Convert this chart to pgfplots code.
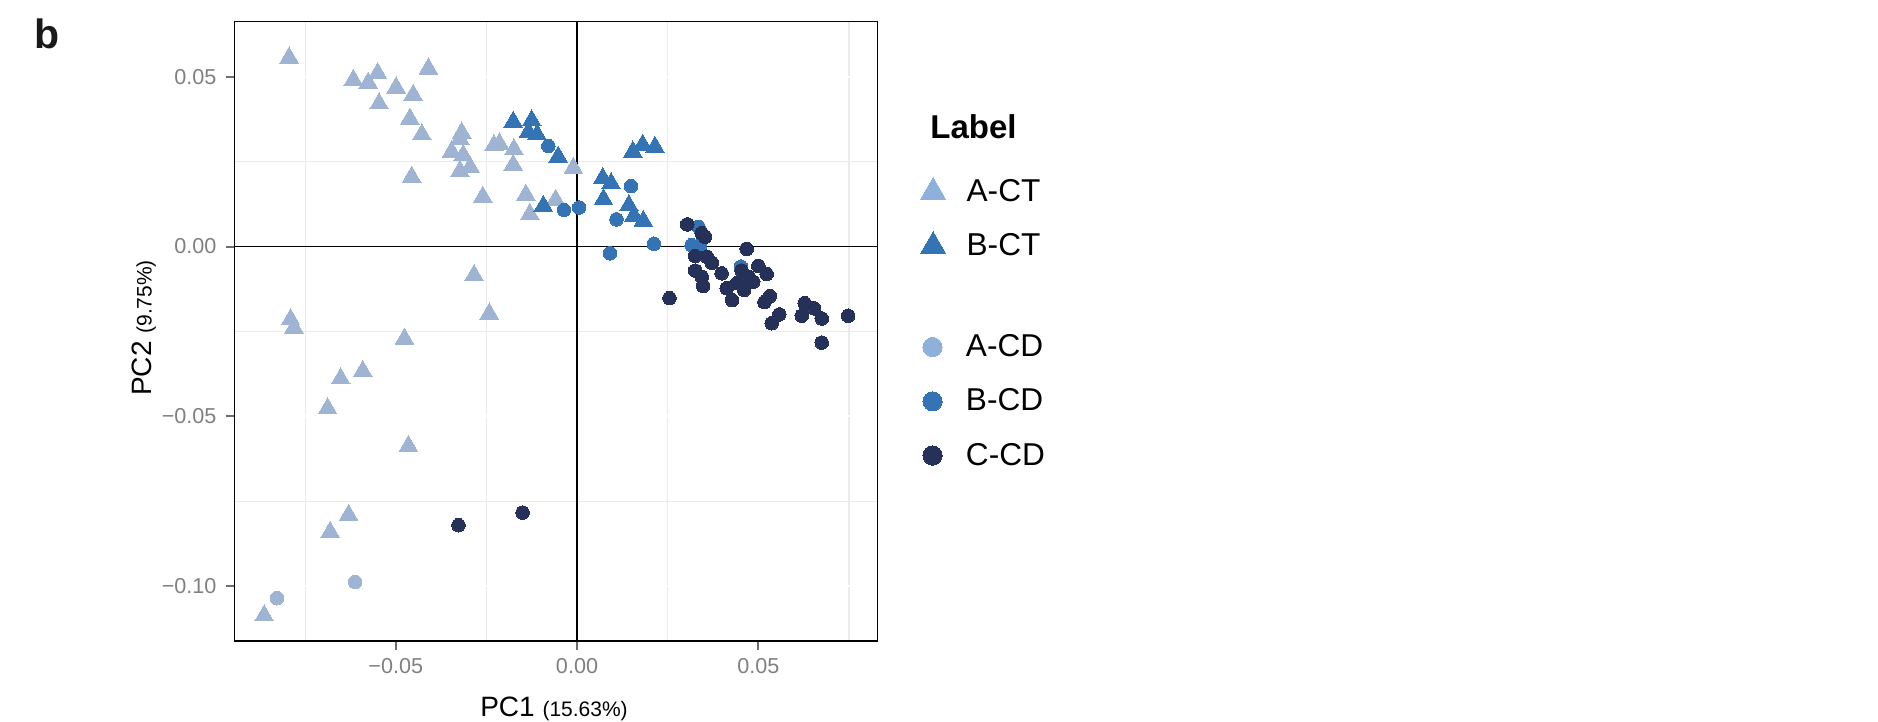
\documentclass[border=0pt]{standalone}
\usepackage{fontspec}
\setmainfont{Liberation Sans}
\usepackage{pgfplots}
\pgfplotsset{compat=1.18}
\definecolor{acol}{HTML}{9FB4D3}
\definecolor{aleg}{HTML}{8DB1DB}
\definecolor{bcol}{HTML}{3474B4}
\definecolor{ccol}{HTML}{253159}
\definecolor{gridc}{HTML}{EBEBEB}
\definecolor{tickc}{HTML}{6E6E6E}
\definecolor{labc}{HTML}{808080}
\begin{document}
\begin{tikzpicture}
\useasboundingbox (0pt,0pt) rectangle (939pt,361pt);
\clip (0pt,0pt) rectangle (939pt,361pt);
\begin{axis}[
  at={(117.25pt,40.5pt)}, anchor=south west,
  width=321.6pt, height=309.65pt, scale only axis,
  xmin=-0.09448, xmax=0.08295, ymin=-0.1162, ymax=0.06622,
  scaled ticks=false,
  axis line style={black, line width=0.7pt},
  xtick={-0.05,0,0.05}, xticklabels={−0.05,0.00,0.05},
  ytick={-0.1,-0.05,0,0.05}, yticklabels={−0.10,−0.05,0.00,0.05},
  minor xtick={-0.075,-0.025,0.025,0.075},
  minor ytick={-0.075,-0.025,0.025},
  grid=both,
  minor grid style={color=gridc, line width=0.6pt},
  major grid style={color=white, line width=0.9pt},
  tick align=outside, tick pos=left,
  major tick length=4.5pt, minor tick length=0pt,
  every tick/.style={color=tickc, line width=1pt},
  tick label style={font=\fontsize{10.8}{12}\selectfont, color=labc, inner sep=0pt},
  xticklabel style={yshift=-4pt},
  yticklabel style={xshift=-4.3pt},
  legend style={at={(1.0656,0.7491)}, anchor=north west, draw=none, fill=none,
    inner sep=0pt, row sep=13.4pt, column sep=10.35pt,
    font=\fontsize{15.8}{18}\selectfont, nodes={inner sep=0pt}},
  legend cell align=left,
]
\addplot[forget plot, black, line width=0.6pt] coordinates {(0,-0.1162) (0,0.06622)};
\addplot[forget plot, black, line width=0.6pt] coordinates {(-0.09448,0) (0.08295,0)};
% A-CT
\addplot[forget plot, only marks, mark=triangle*, mark size=5.4pt, mark options={fill=acol, draw=acol, line width=0pt}] coordinates {
(-0.0794,0.0556) (-0.0617,0.0490) (-0.0576,0.0482) (-0.0550,0.0510) (-0.0410,0.0524)
(-0.0499,0.0468) (-0.0452,0.0446) (-0.0546,0.0421) (-0.0461,0.0376) (-0.0428,0.0330)
(-0.0318,0.0335) (-0.0323,0.0317) (-0.0346,0.0279) (-0.0314,0.0269) (-0.0295,0.0234)
(-0.0323,0.0222) (-0.0456,0.0205) (-0.0229,0.0298) (-0.0214,0.0303) (-0.0174,0.0286)
(-0.0176,0.0240) (-0.0260,0.0146) (-0.0141,0.0152) (-0.0130,0.0095) (-0.0059,0.0137)
(-0.0010,0.0231) (-0.0284,-0.0085) (-0.0242,-0.0198) (-0.0790,-0.0215) (-0.0781,-0.0239)
(-0.0476,-0.0272) (-0.0591,-0.0367) (-0.0652,-0.0389) (-0.0688,-0.0477) (-0.0465,-0.0588)
(-0.0863,-0.1087) (-0.0681,-0.0841) (-0.0630,-0.0791)
};
% B-CT
\addplot[forget plot, only marks, mark=triangle*, mark size=5.4pt, mark options={fill=bcol, draw=bcol, line width=0pt}] coordinates {
(-0.0176,0.0367) (-0.0125,0.0371) (-0.0134,0.0337) (-0.0110,0.0330) (-0.0052,0.0264)
(-0.0093,0.0119) (0.0154,0.0279) (0.0181,0.0299) (0.0215,0.0293) (0.0071,0.0201)
(0.0094,0.0186) (0.0073,0.0139) (0.0143,0.0121) (0.0157,0.0090) (0.0183,0.0075)
};
% A-CD
\addplot[forget plot, only marks, mark=*, mark size=3.4pt, mark options={fill=acol, draw=acol, line width=0pt}] coordinates {
(-0.0828,-0.1036) (-0.0612,-0.0988)
};
% B-CD
\addplot[forget plot, only marks, mark=*, mark size=3.4pt, mark options={fill=bcol, draw=bcol, line width=0pt}] coordinates {
(-0.0079,0.0296) (-0.0036,0.0108) (0.0006,0.0115) (0.0149,0.0178) (0.0109,0.0080)
(0.0091,-0.0020) (0.0212,0.0008) (0.0335,0.0058) (0.0316,0.0004) (0.0339,0.0004)
(0.0452,-0.0059)
};
% C-CD
\addplot[forget plot, only marks, mark=*, mark size=3.4pt, mark options={fill=ccol, draw=ccol, line width=0pt}] coordinates {
(0.0304,0.0065) (0.0344,0.0039) (0.0353,0.0029) (0.0468,-0.0007) (0.0326,-0.0028)
(0.0358,-0.0030) (0.0372,-0.0048) (0.0326,-0.0071) (0.0344,-0.0089) (0.0348,-0.0116)
(0.0399,-0.0079) (0.0255,-0.0152) (0.0413,-0.0123) (0.0428,-0.0158) (0.0441,-0.0108)
(0.0454,-0.0071) (0.0461,-0.0128) (0.0473,-0.0089) (0.0486,-0.0104) (0.0500,-0.0057)
(0.0523,-0.0081) (0.0532,-0.0146) (0.0517,-0.0164) (0.0558,-0.0200) (0.0537,-0.0226)
(0.0628,-0.0167) (0.0654,-0.0182) (0.0620,-0.0204) (0.0675,-0.0212) (0.0748,-0.0204)
(0.0675,-0.0283) (-0.0327,-0.0821) (-0.0150,-0.0784)
};
\addlegendimage{only marks, mark=triangle*, mark size=7.4pt, mark options={fill=aleg, draw=aleg, line width=0pt}}
\addlegendentry{A-CT}
\addlegendimage{only marks, mark=triangle*, mark size=7.4pt, mark options={fill=bcol, draw=bcol, line width=0pt}}
\addlegendentry{B-CT}
\end{axis}
\begin{axis}[
  at={(117.25pt,40.5pt)}, anchor=south west,
  width=321.6pt, height=309.65pt, scale only axis, hide axis,
  xmin=-0.09448, xmax=0.08295, ymin=-0.1162, ymax=0.06622,
  legend style={at={(1.0697,0.4955)}, anchor=north west, draw=none, fill=none,
    inner sep=0pt, row sep=14.6pt, column sep=11.9pt,
    font=\fontsize{15.8}{18}\selectfont, nodes={inner sep=0pt}},
  legend cell align=left,
]
\addlegendimage{only marks, mark=*, mark size=4.8pt, mark options={fill=aleg, draw=aleg, line width=0pt}}
\addlegendentry{A-CD}
\addlegendimage{only marks, mark=*, mark size=4.8pt, mark options={fill=bcol, draw=bcol, line width=0pt}}
\addlegendentry{B-CD}
\addlegendimage{only marks, mark=*, mark size=4.8pt, mark options={fill=ccol, draw=ccol, line width=0pt}}
\addlegendentry{C-CD}
\end{axis}
\node[anchor=base west, inner sep=0pt, font=\fontsize{16.5}{19}\selectfont\bfseries] at (465pt,291.8pt) {Label};
\node[anchor=north west, inner sep=0pt, font=\fontsize{20.5}{24}\selectfont\bfseries, text=black!90] at (17pt,352pt) {b};
\node[anchor=base, inner sep=0pt] at (277pt,2.5pt) {\fontsize{14}{16}\selectfont PC1 \fontsize{10.5}{12}\selectfont(15.63\%)};
\node[anchor=base, rotate=90, inner sep=0pt] at (75.8pt,197pt) {\fontsize{14}{16}\selectfont PC2 \fontsize{10.5}{12}\selectfont(9.75\%)};
\end{tikzpicture}
\end{document}
